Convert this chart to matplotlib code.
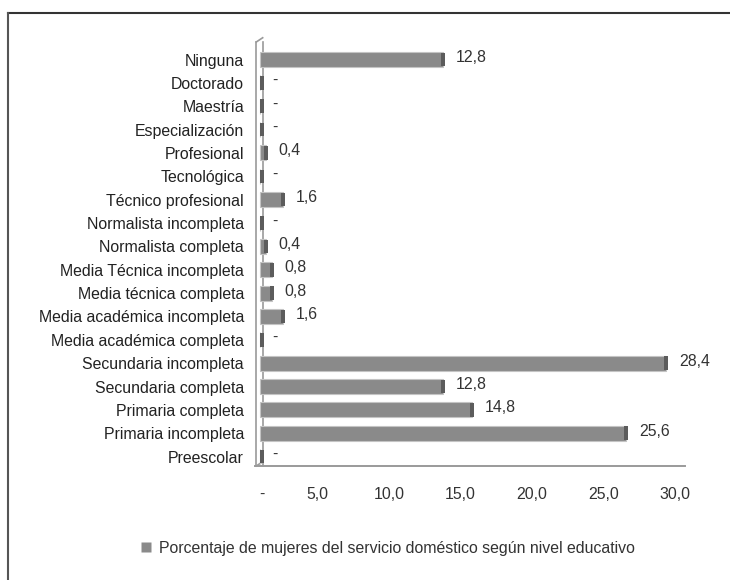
import numpy as np
import matplotlib.pyplot as plt
from matplotlib.lines import Line2D

plt.rcParams['font.family'] = ['Liberation Sans', 'DejaVu Sans']

# categories from top to bottom as in the chart
categories = ['Ninguna', 'Doctorado', 'Maestría', 'Especialización', 'Profesional',
              'Tecnológica', 'Técnico profesional', 'Normalista incompleta',
              'Normalista completa', 'Media Técnica incompleta', 'Media técnica completa',
              'Media académica incompleta', 'Media académica completa',
              'Secundaria incompleta', 'Secundaria completa', 'Primaria completa',
              'Primaria incompleta', 'Preescolar']
values = [12.8, 0, 0, 0, 0.4, 0, 1.6, 0, 0.4, 0.8, 0.8, 1.6, 0, 28.4, 12.8, 14.8, 25.6, 0]
ticks = [0, 5, 10, 15, 20, 25, 30]
tick_labels = ['-', '5,0', '10,0', '15,0', '20,0', '25,0', '30,0']
legend_label = 'Porcentaje de mujeres del servicio doméstico según nivel educativo'

fig = plt.figure(figsize=(7.3, 5.8), dpi=100)
ax = fig.add_axes([0.3534, 0.1966, 0.585, 0.731])

n = len(categories)
y = np.arange(n)[::-1]
vals = np.array(values)

bar_color = '#8a8a8a'
cap_color = '#5c5c5c'
cap_w = 0.28
fs = 11.4

ax.barh(y, vals, height=0.64, color=bar_color, edgecolor='#c4c4c4', linewidth=0.8, zorder=3)
ax.barh(y, np.full(n, cap_w), left=np.maximum(vals - cap_w * 0.5, 0), height=0.58,
        color=cap_color, edgecolor='none', zorder=4)

for yi, v in zip(y, vals):
    lab = '-' if v == 0 else ('%.1f' % v).replace('.', ',')
    ax.annotate(lab, (v, yi), xytext=(9, 1.5), textcoords='offset points',
                ha='left', va='center', fontsize=fs, color='#333333')

ax.set_xlim(-0.15, 29.7)
ax.set_ylim(-0.4, 17.75)

# tick labels sit about one unit to the left, as in the 3D original
tick_pos = [max(t - 1.0, 0.15) for t in ticks]
ax.set_xticks(tick_pos)
ax.set_xticklabels(tick_labels, fontsize=fs, color='#333333')
ax.set_yticks(y)
ax.set_yticklabels(categories, fontsize=fs, color='#222222')
ax.tick_params(axis='both', length=0)
ax.tick_params(axis='x', pad=15)
ax.tick_params(axis='y', pad=10)

for s in ax.spines.values():
    s.set_visible(False)

# wall and floor lines of the 3D frame
wall = '#9a9a9a'
ax.plot([-0.004, -0.004], [0, 1], transform=ax.transAxes, color=wall, lw=1.2, clip_on=False)
ax.plot([0.011, 0.011], [0.0, 1.0], transform=ax.transAxes, color=wall, lw=1.2, clip_on=False)
ax.plot([-0.004, 0.011], [1.0, 1.01], transform=ax.transAxes, color=wall, lw=1.2, clip_on=False)
ax.plot([-0.008, 1.0], [0, 0], transform=ax.transAxes, color=wall, lw=1.4, clip_on=False)
ax.plot([-0.004, 0.011], [0, 0.01], transform=ax.transAxes, color=wall, lw=1.2, clip_on=False)

# legend
handle = Line2D([], [], marker='s', linestyle='none', markersize=7,
                markerfacecolor='#8a8a8a', markeredgecolor='none')
fig.legend([handle], [legend_label], loc='center', bbox_to_anchor=(0.529, 0.055),
           frameon=False, fontsize=fs, handletextpad=0.3, handlelength=1.0,
           labelcolor='#333333')

# outer frame (top and left visible)
fig.add_artist(Line2D([8 / 730, 1.0], [1 - 13 / 580, 1 - 13 / 580],
                      transform=fig.transFigure, color='#333333', lw=1.5))
fig.add_artist(Line2D([8 / 730, 8 / 730], [0, 1 - 13 / 580],
                      transform=fig.transFigure, color='#555555', lw=1.5))

fig.savefig('out.png', dpi=100)
